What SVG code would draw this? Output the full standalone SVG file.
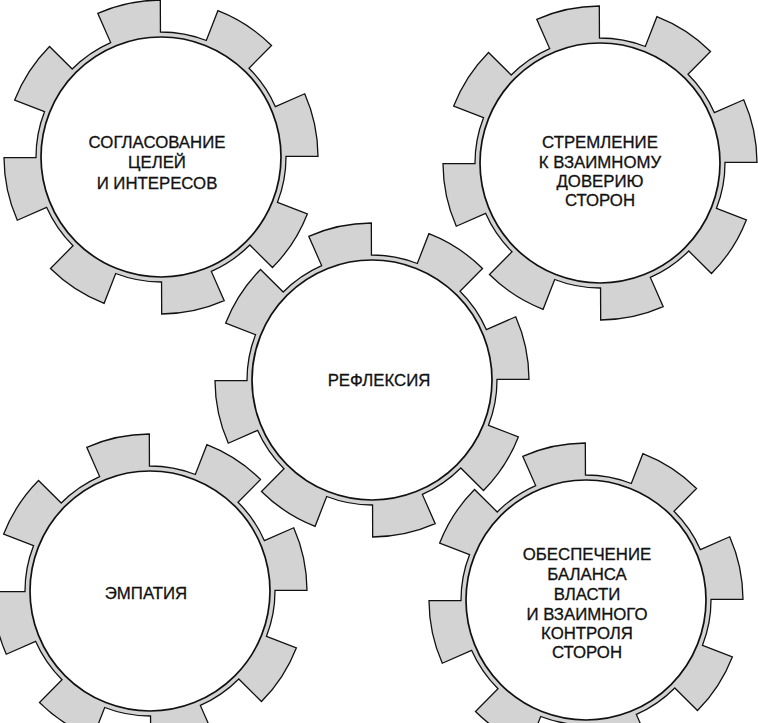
<svg xmlns="http://www.w3.org/2000/svg" xmlns:xlink="http://www.w3.org/1999/xlink" width="758" height="723" viewBox="0 0 758 723">
<style>
.gear{fill:#d3d3d3;stroke:#111;stroke-width:1.3;stroke-linejoin:miter}
.hub{fill:#fff;stroke:#111;stroke-width:1.7}
.lbl{font-family:"Liberation Sans",Arial,sans-serif;font-size:16.8px;fill:#111;stroke:#111;stroke-width:0.3;text-anchor:middle}
</style>
<defs>
<path id="gearShape" d="M114.41,-50.34 L143.71,-63.23 A157,157 0 0 1 157,-0.68 L125,-0.55 A125,125 0 0 1 116.5,45.31 L146.33,56.9 A157,157 0 0 1 111.5,110.53 L88.77,88 A125,125 0 0 1 50.34,114.41 L63.23,143.7 A157,157 0 0 1 0.68,157 L0.55,125 A125,125 0 0 1 -45.31,116.5 L-56.9,146.33 A157,157 0 0 1 -110.53,111.5 L-88,88.77 A125,125 0 0 1 -114.41,50.34 L-143.7,63.23 A157,157 0 0 1 -157,0.68 L-125,0.55 A125,125 0 0 1 -116.5,-45.31 L-146.33,-56.9 A157,157 0 0 1 -111.5,-110.53 L-88.77,-88 A125,125 0 0 1 -50.34,-114.41 L-63.23,-143.7 A157,157 0 0 1 -0.68,-157 L-0.55,-125 A125,125 0 0 1 45.31,-116.5 L56.9,-146.33 A157,157 0 0 1 110.53,-111.5 L88,-88.77 A125,125 0 0 1 114.41,-50.34 Z"/>
</defs>
<rect width="758" height="723" fill="#fff"/>
<g id="connectors"/>
<g id="gear-goals">
<use href="#gearShape" class="gear" transform="translate(161,157)"/>
<circle class="hub" cx="161" cy="157" r="120"/>
<text class="lbl" x="157" y="148">СОГЛАСОВАНИЕ</text>
<text class="lbl" x="157" y="168">ЦЕЛЕЙ</text>
<text class="lbl" x="157" y="189">И ИНТЕРЕСОВ</text>
</g>
<g id="gear-trust">
<use href="#gearShape" class="gear" transform="translate(600,163)"/>
<circle class="hub" cx="600" cy="163" r="120"/>
<text class="lbl" x="600" y="148">СТРЕМЛЕНИЕ</text>
<text class="lbl" x="600" y="168">К ВЗАИМНОМУ</text>
<text class="lbl" x="600" y="187">ДОВЕРИЮ</text>
<text class="lbl" x="600" y="206">СТОРОН</text>
</g>
<g id="gear-reflexia">
<use href="#gearShape" class="gear" transform="translate(372,380)"/>
<circle class="hub" cx="372" cy="380" r="120"/>
<text class="lbl" x="379" y="386">РЕФЛЕКСИЯ</text>
</g>
<g id="gear-empathy">
<use href="#gearShape" class="gear" transform="translate(150,591)"/>
<circle class="hub" cx="150" cy="591" r="120"/>
<text class="lbl" x="146" y="599">ЭМПАТИЯ</text>
</g>
<g id="gear-balance">
<use href="#gearShape" class="gear" transform="translate(586,600)"/>
<circle class="hub" cx="586" cy="600" r="120"/>
<text class="lbl" x="587" y="560">ОБЕСПЕЧЕНИЕ</text>
<text class="lbl" x="587" y="580">БАЛАНСА</text>
<text class="lbl" x="587" y="600">ВЛАСТИ</text>
<text class="lbl" x="587" y="620">И ВЗАИМНОГО</text>
<text class="lbl" x="587" y="639">КОНТРОЛЯ</text>
<text class="lbl" x="587" y="658">СТОРОН</text>
</g>
</svg>
